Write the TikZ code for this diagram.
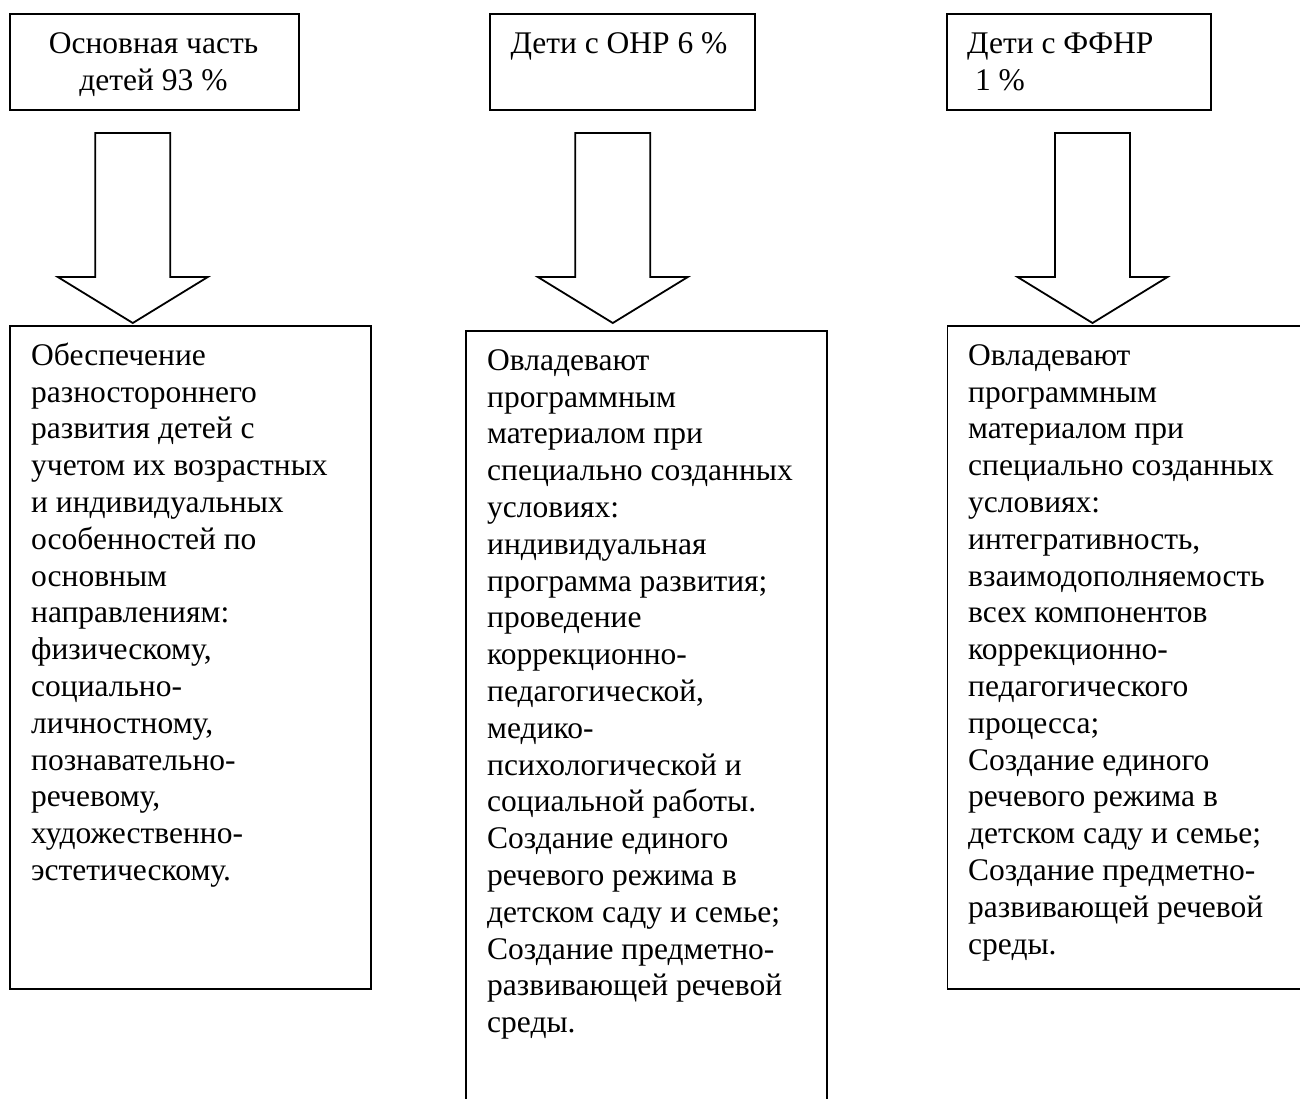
\documentclass[tikz,border=0pt]{standalone}
\usepackage{fontspec}
\setmainfont{Liberation Serif}
\newcommand{\blkarrow}[1]{%
  \draw[blockarrow] ({#1-37.5},133) -- ({#1+37.5},133) -- ({#1+37.5},277) -- ({#1+75},277)
    -- (#1,323) -- ({#1-75},277) -- ({#1-37.5},277) -- cycle;}
\begin{document}
\begin{tikzpicture}[x=1pt,y=-1pt,
  frame/.style={draw, line width=1.8pt, inner sep=0pt, anchor=north west},
  txt/.style={inner sep=0pt, align=left, font=\fontsize{31.5pt}{36.8pt}\selectfont},
  blockarrow/.style={draw, line width=1.8pt, line join=miter}]
\useasboundingbox (0,0) rectangle (1300,1098);
\clip (0,0) rectangle (1300,1098);
% top boxes
\node[frame, minimum width=289pt, minimum height=96pt] (top1) at (9,13) {};
\node[frame, minimum width=265pt, minimum height=96pt] (top2) at (489,13) {};
\node[frame, minimum width=264pt, minimum height=96pt] (top3) at (946,13) {};
% bottom boxes
\node[frame, minimum width=361pt, minimum height=663pt] (bot1) at (9,325) {};
\node[frame, minimum width=361pt, minimum height=790pt] (bot2) at (465,330) {};
\node[frame, minimum width=380pt, minimum height=663pt] (bot3) at (946.5,325) {};
% block arrows
\blkarrow{132.8}
\blkarrow{612.8}
\blkarrow{1092.5}
% top texts
\node[txt, align=center, anchor=north] (l1) at (153.5,27.24) {\strut Основная часть\\детей 93 \%};
\node[txt, anchor=base] (l2) at (619,53) {Дети с ОНР 6 \%};
\node[txt, anchor=north west] (l3) at (967,27.24) {\strut Дети с ФФНР\\\hspace{0.25em}1 \%};
% bottom texts
\node[txt, anchor=north west] (d1) at (31,339.24) {\strut Обеспечение\\
разностороннего\\
развития детей с\\
учетом их возрастных\\
и индивидуальных\\
особенностей по\\
основным\\
направлениям:\\
физическому,\\
социально-\\
личностному,\\
познавательно-\\
речевому,\\
художественно-\\
эстетическому.};
\node[txt, anchor=north west] (d2) at (487,344.24) {\strut Овладевают\\
программным\\
материалом при\\
специально созданных\\
условиях:\\
индивидуальная\\
программа развития;\\
проведение\\
коррекционно-\\
педагогической,\\
медико-\\
психологической и\\
социальной работы.\\
Создание единого\\
речевого режима в\\
детском саду и семье;\\
Создание предметно-\\
развивающей речевой\\
среды.};
\node[txt, anchor=north west] (d3) at (968,339.24) {\strut Овладевают\\
программным\\
материалом при\\
специально созданных\\
условиях:\\
интегративность,\\
взаимодополняемость\\
всех компонентов\\
коррекционно-\\
педагогического\\
процесса;\\
Создание единого\\
речевого режима в\\
детском саду и семье;\\
Создание предметно-\\
развивающей речевой\\
среды.};
\end{tikzpicture}
\end{document}
